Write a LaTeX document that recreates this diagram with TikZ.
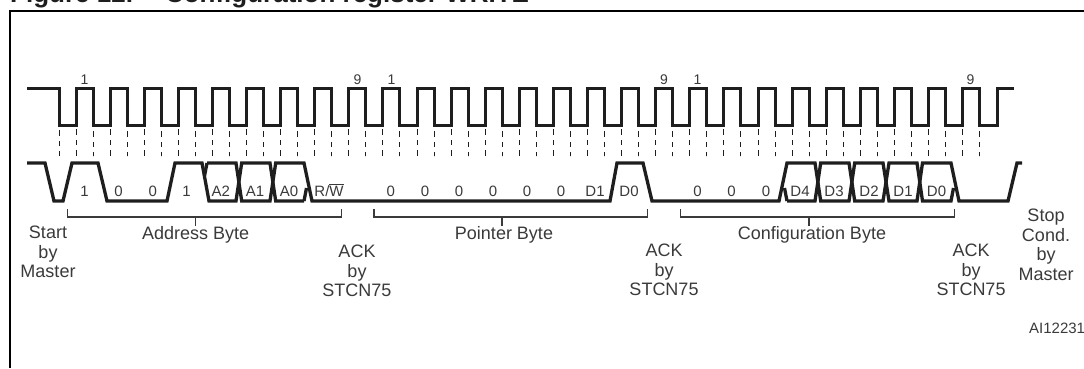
\documentclass[tikz,border=0pt]{standalone}
\usepackage{fontspec}
\setmainfont{Liberation Sans}
\definecolor{ink}{HTML}{1E1E1E}
\definecolor{soft}{HTML}{3A3A3A}
\tikzset{
  sclwave/.style={draw=ink,line width=3pt,line join=miter},
  sdawave/.style={draw=ink,line width=3.3pt,line join=miter},
  guide/.style={draw=ink,line width=1.1pt,dash pattern=on 6pt off 5pt on 5pt off 5pt on 4pt off 0pt},
  bracket/.style={draw=soft,line width=1.1pt},
  frameline/.style={draw=black,line width=1.8pt},
  bit/.style={font=\fontsize{15}{15}\selectfont,text=soft,inner sep=0pt,anchor=base},
  count/.style={font=\fontsize{14}{14}\selectfont,text=soft,inner sep=0pt,anchor=base},
  lbl/.style={font=\fontsize{18}{19.6}\selectfont,text=soft,inner sep=0pt,align=center,anchor=north},
  ttl/.style={font=\fontsize{26}{26}\selectfont\bfseries,text=ink,inner sep=0pt,anchor=base west}
}
\begin{document}
\begin{tikzpicture}[x=1pt,y=-1pt]
\useasboundingbox (0,0) rectangle (1084,368);
\begin{scope}
\clip (0,0) rectangle (1084,368);
\node[ttl] (title) at (10,2.5) {Figure 12.\hspace{32pt}Configuration register WRITE};
\node[font=\fontsize{15}{15}\selectfont,text=soft,inner sep=0pt,anchor=base west] (id) at (1029,333) {AI12231};
\end{scope}
\draw[frameline] (10,368) -- (10,11) -- (1084,11);
% SCL
\def\per{34.1}
\draw[sclwave] (27,88) -- (59,88) -- (59,125)
  \foreach \k in {0,...,26} { -- ({76+\per*\k},125) -- ({76+\per*\k},88) -- ({93+\per*\k},88) -- ({93+\per*\k},125) }
  -- (997,125) -- (997,88) -- (1014,88);
% guides
\draw[guide] (59.5,130) -- (59.5,156);
\foreach \k in {0,...,26} {
  \draw[guide] ({floor(76+\per*\k)+0.5},129) -- ({floor(76+\per*\k)+0.5},156);
  \draw[guide] ({floor(93+\per*\k)+0.5},131) -- ({floor(93+\per*\k)+0.5},156);
}
% SDA main line
\draw[sdawave] (27,163) -- (45,163) -- (54,201) -- (63,201) -- (72,163) -- (98,163) -- (107,201) -- (167,201) -- (175,163) -- (202,163) -- (209,201) -- (236,201) -- (241.7,163) -- (270,163) -- (275.7,201) -- (304,201);
\draw[sdawave] (207,163) -- (204.5,176);
\draw[sdawave] (207,163) -- (236,163) -- (241.7,201) -- (270,201) -- (275.7,163) -- (304,163) -- (312,201) -- (610,201) -- (617,163) -- (643,163) -- (652,201) -- (779,201) -- (787,163) -- (815,163) -- (820.7,201) -- (849,201) -- (854.7,163) -- (883,163) -- (889,201) -- (917,201) -- (922.5,163) -- (951,163) -- (959,201) -- (1008,201) -- (1017,163) -- (1022,163);
\draw[sdawave] (304,201) -- (306.5,188);
\draw[sdawave] (787,201) -- (784.5,188) ;
\draw[sdawave] (787,201) -- (815,201) -- (820.7,163) -- (849,163) -- (854.7,201) -- (883,201) -- (889,163) -- (917,163) -- (922.5,201) -- (951,201) -- (953.5,188);
% brackets
\draw[bracket] (67.7,209) -- (67.7,217) -- (341.7,217) -- (341.7,209);
\draw[bracket] (195.7,217) -- (195.7,226);
\draw[bracket] (374,209) -- (374,217) -- (647.7,217) -- (647.7,209);
\draw[bracket] (502,217) -- (502,226);
\draw[bracket] (680.7,209) -- (680.7,217) -- (954.7,217) -- (954.7,209);
\draw[bracket] (809,217) -- (809,226);
% pulse numbers
\node[count] (c1) at (84.5,84) {1};
\node[count] (c2) at (357.5,84) {9};
\node[count] (c3) at (391.5,84) {1};
\node[count] (c4) at (664,84) {9};
\node[count] (c5) at (697.5,84) {1};
\node[count] (c6) at (970.5,84) {9};
% bits
\foreach \n/\x/\t in {a/84.5/1,b/118.6/0,c/152.7/0,d/186.5/1,e/220.7/A2,f/255/A1,g/289/A0,
  h/390.7/0,i/425/0,j/459/0,k/493/0,l/527/0,m/561/0,n/595/D1,o/629/D0,
  p/697.5/0,q/731.5/0,r/766/0,s/800/D4,t/834/D3,u/869/D2,v/903/D1,w/936.5/D0}{
  \node[bit] (bit\n) at (\x,196) {\t};
}
\node[bit] (rw) at (329,196) {R/$\overline{\mbox{W}}$};
% labels
\node[lbl] (start) at (48,226) {Start\\by\\Master};
\node[lbl] (addr) at (195.7,226) {Address Byte};
\node[lbl] (ack1) at (357,245) {ACK\\by\\STCN75};
\node[lbl] (ptr) at (504,226) {Pointer Byte};
\node[lbl] (ack2) at (664,244) {ACK\\by\\STCN75};
\node[lbl] (cfg) at (812,226) {Configuration Byte};
\node[lbl] (ack3) at (971,244) {ACK\\by\\STCN75};
\node[lbl] (stop) at (1046,209) {Stop\\Cond.\\by\\Master};
\end{tikzpicture}
\end{document}
